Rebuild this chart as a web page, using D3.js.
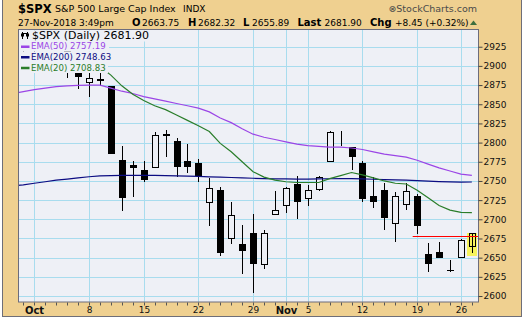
<!DOCTYPE html>
<html>
<head>
<meta charset="utf-8">
<script src="https://cdn.jsdelivr.net/npm/d3@7"></script>
<style>
  body { margin: 0; background: #fff; }
  svg { display: block; font-family: "DejaVu Sans", sans-serif; }
</style>
</head>
<body>
<div id="chart"></div>
<script>
// daily bars, $SPX Sep 27 - Nov 27 2018
const dates = ["2018-09-27","2018-09-28","2018-10-01","2018-10-02","2018-10-03","2018-10-04","2018-10-05",
  "2018-10-08","2018-10-09","2018-10-10","2018-10-11","2018-10-12","2018-10-15","2018-10-16","2018-10-17",
  "2018-10-18","2018-10-19","2018-10-22","2018-10-23","2018-10-24","2018-10-25","2018-10-26","2018-10-29",
  "2018-10-30","2018-10-31","2018-11-01","2018-11-02","2018-11-05","2018-11-06","2018-11-07","2018-11-08",
  "2018-11-09","2018-11-12","2018-11-13","2018-11-14","2018-11-15","2018-11-16","2018-11-19","2018-11-20",
  "2018-11-21","2018-11-23","2018-11-26","2018-11-27"];
const opens  = [2911.65,2910.03,2926.29,2923.80,2931.69,2919.35,2902.54,2877.53,2882.51,2873.90,2776.87,2770.54,2763.83,
  2767.05,2811.67,2802.00,2775.66,2773.94,2721.03,2737.87,2674.88,2667.86,2682.65,2640.68,2705.60,2717.58,2745.45,
  2726.37,2738.40,2774.13,2806.38,2794.10,2773.93,2730.05,2737.90,2693.52,2718.54,2730.74,2654.60,2657.74,2633.36,
  2649.97,2663.75];
const highs  = [2927.22,2920.53,2937.06,2931.42,2939.86,2919.78,2909.64,2894.83,2894.83,2874.02,2795.14,2775.77,2775.99,
  2813.46,2816.94,2806.04,2797.77,2778.94,2753.59,2742.59,2722.70,2692.38,2706.85,2685.43,2736.69,2741.67,2756.55,
  2744.27,2756.82,2815.15,2814.75,2794.10,2775.99,2754.60,2746.80,2735.38,2746.75,2733.16,2669.44,2670.73,2647.55,
  2674.35,2682.32];
const lows   = [2909.27,2907.50,2917.91,2919.37,2921.36,2883.92,2869.29,2859.00,2874.27,2784.86,2710.51,2729.44,2749.03,
  2766.91,2781.81,2755.18,2760.27,2749.22,2691.43,2651.89,2667.84,2628.16,2603.54,2635.34,2705.60,2708.85,2700.44,
  2717.94,2737.08,2774.13,2794.99,2764.24,2722.00,2714.98,2685.75,2670.75,2712.16,2681.09,2631.52,2649.82,2631.09,
  2649.97,2655.89];
const closes = [2914.00,2913.98,2924.59,2923.43,2925.51,2901.61,2885.57,2884.43,2880.34,2785.68,2728.37,2767.13,2750.79,
  2809.92,2809.21,2768.78,2767.78,2755.88,2740.69,2656.10,2705.57,2658.69,2641.25,2682.63,2711.74,2740.37,2723.06,
  2738.31,2755.45,2813.89,2806.83,2781.01,2726.22,2722.18,2701.58,2730.20,2736.27,2690.73,2641.89,2649.93,2632.56,
  2673.45,2681.90];

// overlays
const ema50  = [2864,2866.5,2869,2871,2873,2874,2874.5,2875,2875,2871,2867,2864,2860,2857,2854,2851,2848,2845,2840,
  2832,2826,2818,2811,2807,2804,2801,2798,2796,2795,2794,2794,2793,2791,2788,2785,2783,2781,2777,2772,2767,2763,
  2759,2757.19];
const ema200 = [2743.5,2745,2747,2749,2751,2752.5,2754,2755.5,2756.5,2757,2757.3,2757.3,2757.3,2757.2,2757,2756.7,
  2756.3,2755.9,2755.4,2754.9,2754.5,2754,2753.5,2753.1,2752.8,2752.6,2752.5,2752.5,2752.6,2752.9,2753,2753,2752.6,
  2752.2,2751.7,2751.3,2751,2750.4,2749.7,2749.2,2748.7,2748.4,2748.63];
const ema20  = [2903,2904,2906,2907,2908,2907,2904,2901,2899,2888,2874,2863,2855,2848,2843,2836,2829,2822,2814.5,
  2799,2788,2775,2762,2755,2751,2749,2748,2748,2748,2753,2757,2761,2758,2754,2750,2747,2746,2738,2728,2718,2712,
  2709,2708.83];

const yTicks = [2600,2625,2650,2675,2700,2725,2750,2775,2800,2825,2850,2875,2900,2925];
const xLabelDates = ["2018-10-01","2018-10-08","2018-10-15","2018-10-22","2018-10-29","2018-11-01",
  "2018-11-05","2018-11-12","2018-11-19","2018-11-26"];
const xLabels = ["Oct","8","15","22","29","Nov","5","12","19","26"];
const monthLabels = ["Oct","Nov"];

const levelValue = 2678;          // red horizontal line
const levelFrom = "2018-11-19";

const colors = {
  tan: "#efd090",
  plotBg: "#eef0f6",
  grid: "#a8dcee",
  ema50: "#9b45e6",
  ema200: "#0c0c82",
  ema20: "#2a7d2a"
};

const width = 524, height = 319;
const pL = 18, pR = 478, pT = 30, pB = 302;

const svg = d3.select("#chart").append("svg")
    .attr("width", width)
    .attr("height", height);

svg.append("rect")
    .attr("x", 2.5).attr("y", -2)
    .attr("width", 519).attr("height", 318.5)
    .attr("fill", colors.tan)
    .attr("stroke", "#6e6e78");

const x = d3.scaleLinear().domain([0.51, 42.56]).range([pL, pR]);
const y = d3.scaleLinear().domain([2592.2, 2946.8]).range([pB, pT]);

const bars = dates.map((d, i) => ({
  date: d, i, open: opens[i], high: highs[i], low: lows[i], close: closes[i]
}));

svg.append("clipPath").attr("id", "clip")
  .append("rect").attr("x", pL).attr("y", pT).attr("width", pR - pL).attr("height", pB - pT);

svg.append("rect")
    .attr("x", pL).attr("y", pT)
    .attr("width", pR - pL).attr("height", pB - pT)
    .attr("fill", colors.plotBg);

const plot = svg.append("g").attr("clip-path", "url(#clip)");

// grid
plot.append("g").selectAll("line")
  .data(yTicks)
  .join("line")
    .attr("x1", pL).attr("x2", pR)
    .attr("y1", d => Math.round(y(d)) + 0.5)
    .attr("y2", d => Math.round(y(d)) + 0.5)
    .attr("stroke", colors.grid);

plot.append("g").selectAll("line")
  .data(xLabelDates)
  .join("line")
    .attr("x1", d => Math.round(x(dates.indexOf(d))) + 0.5)
    .attr("x2", d => Math.round(x(dates.indexOf(d))) + 0.5)
    .attr("y1", pT).attr("y2", pB)
    .attr("stroke", colors.grid);

// highlight on the last bar
const last = bars[bars.length - 1];
plot.append("rect")
    .attr("x", Math.round(x(last.i)) - 5)
    .attr("y", Math.round(y(last.high)))
    .attr("width", 10)
    .attr("height", Math.round(y(last.low)) - Math.round(y(last.high)) + 3)
    .attr("fill", "#f6f35c");

// candles
const cx = d => Math.round(x(d.i)) + 0.5;
const candle = plot.append("g").selectAll("g")
  .data(bars)
  .join("g");

candle.append("line")
    .attr("x1", cx).attr("x2", cx)
    .attr("y1", d => Math.round(y(d.high)))
    .attr("y2", d => Math.round(y(d.low)))
    .attr("stroke", "#000");

candle.filter(d => d.close < d.open).append("rect")
    .attr("x", d => cx(d) - 3.5)
    .attr("y", d => Math.round(y(d.open)))
    .attr("width", 7)
    .attr("height", d => Math.max(1, Math.round(y(d.close)) - Math.round(y(d.open))))
    .attr("fill", "#000");

candle.filter(d => d.close >= d.open).append("rect")
    .attr("x", d => cx(d) - 3)
    .attr("y", d => Math.round(y(d.close)) + 0.5)
    .attr("width", 6)
    .attr("height", d => Math.max(0, Math.round(y(d.open)) - Math.round(y(d.close)) - 1))
    .attr("fill", d => d === last ? "none" : colors.plotBg)
    .attr("stroke", "#000");

// moving averages
const line = d3.line()
    .x((d, i) => x(i))
    .y(d => y(d));

[[ema200, colors.ema200], [ema50, colors.ema50], [ema20, colors.ema20]].forEach(([s, c]) => {
  plot.append("path")
      .datum(s)
      .attr("fill", "none")
      .attr("stroke", c)
      .attr("stroke-width", 1.2)
      .attr("d", line);
});

// level line
plot.append("line")
    .attr("x1", x(dates.indexOf(levelFrom)) - 4.5)
    .attr("x2", pR)
    .attr("y1", Math.round(y(levelValue)) + 0.5)
    .attr("y2", Math.round(y(levelValue)) + 0.5)
    .attr("stroke", "#ff0000")
    .attr("stroke-width", 1.2);

// legend, drawn on boxes of the plot colour
const legendRows = [
  {text: "$SPX (Daily) 2681.90", color: "#000", size: 11, w: 135, icon: true},
  {text: "EMA(50) 2757.19", color: colors.ema50, size: 8.6, w: 90},
  {text: "EMA(200) 2748.63", color: colors.ema200, size: 8.6, w: 94},
  {text: "EMA(20) 2708.83", color: colors.ema20, size: 8.6, w: 89}
];
const rowTop = [30, 41, 51.5, 62];
const rowH = [11, 10.5, 10.5, 11];
const legend = svg.append("g");
legendRows.forEach((r, k) => {
  legend.append("rect")
      .attr("x", pL + 1).attr("y", rowTop[k] + (k === 0 ? 0.5 : 0))
      .attr("width", r.w).attr("height", rowH[k])
      .attr("fill", colors.plotBg);
  legend.append("text")
      .attr("x", k === 0 ? 32 : 31)
      .attr("y", rowTop[k] + rowH[k] - 2.2)
      .attr("font-size", r.size)
      .attr("fill", r.color)
      .text(r.text);
  if (r.icon) {
    const g = legend.append("g").attr("fill", "#000").attr("stroke", "#000");
    g.append("line").attr("x1", 22.5).attr("x2", 22.5).attr("y1", 32).attr("y2", 39);
    g.append("rect").attr("x", 21).attr("y", 33.5).attr("width", 3).attr("height", 3).attr("stroke", "none");
    g.append("line").attr("x1", 27.5).attr("x2", 27.5).attr("y1", 32).attr("y2", 39);
    g.append("rect").attr("x", 26).attr("y", 33.5).attr("width", 3).attr("height", 3).attr("stroke", "none");
    g.append("line").attr("x1", 22).attr("x2", 28).attr("y1", 33.5).attr("y2", 33.5);
  } else {
    legend.append("line")
        .attr("x1", 21).attr("x2", 29.5)
        .attr("y1", rowTop[k] + rowH[k] / 2 + 0.5)
        .attr("y2", rowTop[k] + rowH[k] / 2 + 0.5)
        .attr("stroke", r.color)
        .attr("stroke-width", 2.5);
  }
});

// plot frame
svg.append("rect")
    .attr("x", pL + 0.5).attr("y", pT - 0.5)
    .attr("width", pR - pL).attr("height", pB - pT + 0.5)
    .attr("fill", "none")
    .attr("stroke", "#6c6c7c");

// right axis
const yAxis = svg.append("g")
    .attr("transform", `translate(${pR + 0.5},0)`)
    .call(d3.axisRight(y).tickValues(yTicks).tickSize(4).tickPadding(1).tickFormat(d3.format("d")));
yAxis.select(".domain").remove();
yAxis.selectAll("line").attr("stroke", "#444");
yAxis.selectAll("text")
    .attr("font-family", "DejaVu Sans, sans-serif")
    .attr("font-size", 9)
    .attr("fill", "#111");

// bottom axis: a tick per trading day, labels on weeks
const labelFor = i => {
  const k = xLabelDates.indexOf(dates[i]);
  return k < 0 ? "" : xLabels[k];
};
const xAxis = svg.append("g")
    .attr("transform", `translate(0,${pB + 0.5})`)
    .call(d3.axisBottom(x)
      .tickValues(d3.range(1, dates.length))
      .tickSize(3)
      .tickPadding(1.3)
      .tickFormat(labelFor));
xAxis.select(".domain").remove();
xAxis.selectAll(".tick").attr("transform", d => `translate(${Math.round(x(d)) + 0.5},0)`);
xAxis.selectAll("line").attr("stroke", "#555");
xAxis.selectAll("text")
    .attr("font-family", "DejaVu Sans, sans-serif")
    .attr("fill", "#111")
    .attr("font-weight", d => monthLabels.includes(labelFor(d)) ? "bold" : null)
    .attr("font-size", d => monthLabels.includes(labelFor(d)) ? 10 : 9);

// header
const head = svg.append("g").attr("fill", "#000");
head.append("text").attr("x", 18).attr("y", 12.5)
    .attr("font-size", 11.5).attr("font-weight", "bold").text("$SPX");
head.append("text").attr("x", 55).attr("y", 12)
    .attr("font-size", 9.5).text("S&P 500 Large Cap Index");
head.append("text").attr("x", 183).attr("y", 12)
    .attr("font-size", 9).text("INDX");
head.append("text").attr("x", 477).attr("y", 12)
    .attr("font-size", 9.5).attr("text-anchor", "end").attr("fill", "#4a4a4a").text("\u2297StockCharts.com");

const quote = [
  {x: 18, t: "27-Nov-2018 3:49pm"},
  {x: 132, t: "O", b: true}, {x: 142, t: "2663.75"},
  {x: 188, t: "H", b: true}, {x: 198, t: "2682.32"},
  {x: 243, t: "L", b: true}, {x: 252, t: "2655.89"},
  {x: 297.5, t: "Last", b: true}, {x: 324.5, t: "2681.90"},
  {x: 370, t: "Chg", b: true}, {x: 395, t: "+8.45 (+0.32%)"}
];
head.selectAll(".q").data(quote).join("text")
    .attr("x", d => d.x).attr("y", 26)
    .attr("font-size", d => d.b ? 10 : 9)
    .attr("font-weight", d => d.b ? "bold" : null)
    .text(d => d.t);
head.append("path")
    .attr("d", "M470,25 L473.5,20.5 L477,25 Z")
    .attr("fill", "#3e6e3e");
</script>
</body>
</html>
